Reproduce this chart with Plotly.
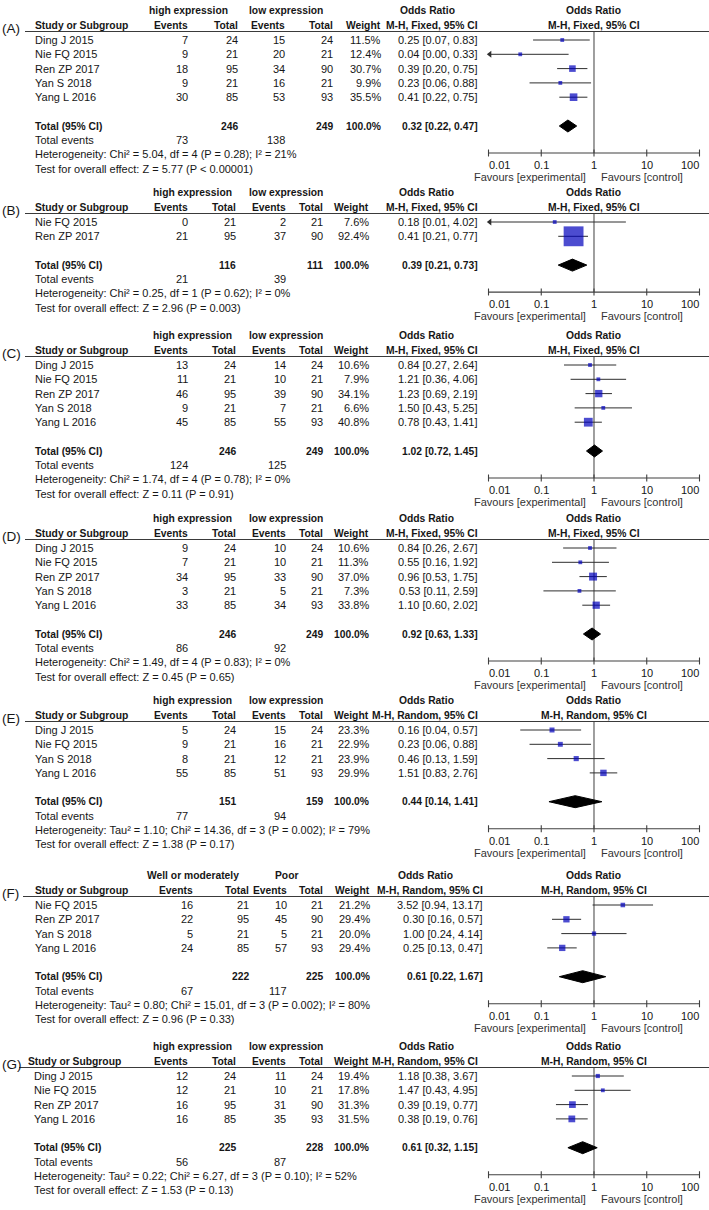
import math
import plotly.graph_objects as go

W, H = 709, 1210

# ------------------------------------------------------------------ data
PANEL_LABELS = ["(A)", "(B)", "(C)", "(D)", "(E)", "(F)", "(G)"]
GROUP1 = ["high expression"] * 5 + ["Well or moderately", "high expression"]
GROUP2 = ["low expression"] * 5 + ["Poor", "low expression"]
METHOD = ["M-H, Fixed, 95% CI"] * 4 + ["M-H, Random, 95% CI"] * 3

A_STUDIES = ["Ding J 2015", "Nie FQ 2015", "Ren ZP 2017", "Yan S 2018", "Yang L 2016"]
A_EV1 = [7, 9, 18, 9, 30]
A_TOT1 = [24, 21, 95, 21, 85]
A_EV2 = [15, 20, 34, 16, 53]
A_TOT2 = [24, 21, 90, 21, 93]
A_WEIGHT = [11.5, 12.4, 30.7, 9.9, 35.5]
A_OR = [0.25, 0.04, 0.39, 0.23, 0.41]
A_LO = [0.07, 0.00, 0.20, 0.06, 0.22]
A_HI = [0.83, 0.33, 0.75, 0.88, 0.75]
A_TOTALS = [246, 249]
A_POOLED = [0.32, 0.22, 0.47]
A_EVENTS = [73, 138]
A_HET = "Heterogeneity: Chi² = 5.04, df = 4 (P = 0.28); I² = 21%"
A_TEST = "Test for overall effect: Z = 5.77 (P < 0.00001)"

B_STUDIES = ["Nie FQ 2015", "Ren ZP 2017"]
B_EV1 = [0, 21]
B_TOT1 = [21, 95]
B_EV2 = [2, 37]
B_TOT2 = [21, 90]
B_WEIGHT = [7.6, 92.4]
B_OR = [0.18, 0.41]
B_LO = [0.01, 0.21]
B_HI = [4.02, 0.77]
B_TOTALS = [116, 111]
B_POOLED = [0.39, 0.21, 0.73]
B_EVENTS = [21, 39]
B_HET = "Heterogeneity: Chi² = 0.25, df = 1 (P = 0.62); I² = 0%"
B_TEST = "Test for overall effect: Z = 2.96 (P = 0.003)"

C_STUDIES = ["Ding J 2015", "Nie FQ 2015", "Ren ZP 2017", "Yan S 2018", "Yang L 2016"]
C_EV1 = [13, 11, 46, 9, 45]
C_TOT1 = [24, 21, 95, 21, 85]
C_EV2 = [14, 10, 39, 7, 55]
C_TOT2 = [24, 21, 90, 21, 93]
C_WEIGHT = [10.6, 7.9, 34.1, 6.6, 40.8]
C_OR = [0.84, 1.21, 1.23, 1.50, 0.78]
C_LO = [0.27, 0.36, 0.69, 0.43, 0.43]
C_HI = [2.64, 4.06, 2.19, 5.25, 1.41]
C_TOTALS = [246, 249]
C_POOLED = [1.02, 0.72, 1.45]
C_EVENTS = [124, 125]
C_HET = "Heterogeneity: Chi² = 1.74, df = 4 (P = 0.78); I² = 0%"
C_TEST = "Test for overall effect: Z = 0.11 (P = 0.91)"

D_STUDIES = ["Ding J 2015", "Nie FQ 2015", "Ren ZP 2017", "Yan S 2018", "Yang L 2016"]
D_EV1 = [9, 7, 34, 3, 33]
D_TOT1 = [24, 21, 95, 21, 85]
D_EV2 = [10, 10, 33, 5, 34]
D_TOT2 = [24, 21, 90, 21, 93]
D_WEIGHT = [10.6, 11.3, 37.0, 7.3, 33.8]
D_OR = [0.84, 0.55, 0.96, 0.53, 1.10]
D_LO = [0.26, 0.16, 0.53, 0.11, 0.60]
D_HI = [2.67, 1.92, 1.75, 2.59, 2.02]
D_TOTALS = [246, 249]
D_POOLED = [0.92, 0.63, 1.33]
D_EVENTS = [86, 92]
D_HET = "Heterogeneity: Chi² = 1.49, df = 4 (P = 0.83); I² = 0%"
D_TEST = "Test for overall effect: Z = 0.45 (P = 0.65)"

E_STUDIES = ["Ding J 2015", "Nie FQ 2015", "Yan S 2018", "Yang L 2016"]
E_EV1 = [5, 9, 8, 55]
E_TOT1 = [24, 21, 21, 85]
E_EV2 = [15, 16, 12, 51]
E_TOT2 = [24, 21, 21, 93]
E_WEIGHT = [23.3, 22.9, 23.9, 29.9]
E_OR = [0.16, 0.23, 0.46, 1.51]
E_LO = [0.04, 0.06, 0.13, 0.83]
E_HI = [0.57, 0.88, 1.59, 2.76]
E_TOTALS = [151, 159]
E_POOLED = [0.44, 0.14, 1.41]
E_EVENTS = [77, 94]
E_HET = "Heterogeneity: Tau² = 1.10; Chi² = 14.36, df = 3 (P = 0.002); I² = 79%"
E_TEST = "Test for overall effect: Z = 1.38 (P = 0.17)"

F_STUDIES = ["Nie FQ 2015", "Ren ZP 2017", "Yan S 2018", "Yang L 2016"]
F_EV1 = [16, 22, 5, 24]
F_TOT1 = [21, 95, 21, 85]
F_EV2 = [10, 45, 5, 57]
F_TOT2 = [21, 90, 21, 93]
F_WEIGHT = [21.2, 29.4, 20.0, 29.4]
F_OR = [3.52, 0.30, 1.00, 0.25]
F_LO = [0.94, 0.16, 0.24, 0.13]
F_HI = [13.17, 0.57, 4.14, 0.47]
F_TOTALS = [222, 225]
F_POOLED = [0.61, 0.22, 1.67]
F_EVENTS = [67, 117]
F_HET = "Heterogeneity: Tau² = 0.80; Chi² = 15.01, df = 3 (P = 0.002); I² = 80%"
F_TEST = "Test for overall effect: Z = 0.96 (P = 0.33)"

G_STUDIES = ["Ding J 2015", "Nie FQ 2015", "Ren ZP 2017", "Yang L 2016"]
G_EV1 = [12, 12, 16, 16]
G_TOT1 = [24, 21, 95, 85]
G_EV2 = [11, 10, 31, 35]
G_TOT2 = [24, 21, 90, 93]
G_WEIGHT = [19.4, 17.8, 31.3, 31.5]
G_OR = [1.18, 1.47, 0.39, 0.38]
G_LO = [0.38, 0.43, 0.19, 0.19]
G_HI = [3.67, 4.95, 0.77, 0.76]
G_TOTALS = [225, 228]
G_POOLED = [0.61, 0.32, 1.15]
G_EVENTS = [56, 87]
G_HET = "Heterogeneity: Tau² = 0.22; Chi² = 6.27, df = 3 (P = 0.10); I² = 52%"
G_TEST = "Test for overall effect: Z = 1.53 (P = 0.13)"

TICK_VALUES = [0.01, 0.1, 1, 10, 100]
TICK_LABELS = ["0.01", "0.1", "1", "10", "100"]
FAVOURS_LEFT = "Favours [experimental]"
FAVOURS_RIGHT = "Favours [control]"

PANELS = [
    (A_STUDIES, A_EV1, A_TOT1, A_EV2, A_TOT2, A_WEIGHT, A_OR, A_LO, A_HI, A_TOTALS, A_POOLED, A_EVENTS, A_HET, A_TEST),
    (B_STUDIES, B_EV1, B_TOT1, B_EV2, B_TOT2, B_WEIGHT, B_OR, B_LO, B_HI, B_TOTALS, B_POOLED, B_EVENTS, B_HET, B_TEST),
    (C_STUDIES, C_EV1, C_TOT1, C_EV2, C_TOT2, C_WEIGHT, C_OR, C_LO, C_HI, C_TOTALS, C_POOLED, C_EVENTS, C_HET, C_TEST),
    (D_STUDIES, D_EV1, D_TOT1, D_EV2, D_TOT2, D_WEIGHT, D_OR, D_LO, D_HI, D_TOTALS, D_POOLED, D_EVENTS, D_HET, D_TEST),
    (E_STUDIES, E_EV1, E_TOT1, E_EV2, E_TOT2, E_WEIGHT, E_OR, E_LO, E_HI, E_TOTALS, E_POOLED, E_EVENTS, E_HET, E_TEST),
    (F_STUDIES, F_EV1, F_TOT1, F_EV2, F_TOT2, F_WEIGHT, F_OR, F_LO, F_HI, F_TOTALS, F_POOLED, F_EVENTS, F_HET, F_TEST),
    (G_STUDIES, G_EV1, G_TOT1, G_EV2, G_TOT2, G_WEIGHT, G_OR, G_LO, G_HI, G_TOTALS, G_POOLED, G_EVENTS, G_HET, G_TEST),
]

# ------------------------------------------------------------------ layout constants (pixels)
HEADER_Y = [25, 207, 350, 533, 715, 890, 1061]
ROW_STEP = 14.3
COLS_STD = dict(left=35, ev1=188, tot1=236, ev2=286, tot2=323, wt=369, orr=478, g1=192.5, g2=286, orc=427, line0=25, study=35)
COLS = [
    dict(COLS_STD, tot1=238, ev2=285, tot2=333, wt=381, g1=188.5, orc=428),
    dict(COLS_STD),
    dict(COLS_STD),
    dict(COLS_STD),
    dict(COLS_STD),
    dict(COLS_STD, ev1=193, tot1=249, ev2=287, wt=370, orr=483, g2=286, orc=426, line0=23),
    dict(COLS_STD, line0=19, study=28, left=34),
]
X_LEFT_PX, X_RIGHT_PX = 488.5, 699.5   # positions of 0.01 and 100
PAD = 0.1
DEC = (X_RIGHT_PX - X_LEFT_PX) / 4

FONT = "Liberation Sans, Arial, sans-serif"
TXT = "#161616"
BLUE = "#0000bc"
LINE = "#2e2e2e"
REG, BOLD = 11.0, 10.3

fig = go.Figure()
ann = []
shapes = []


def txt(x, y, s, anchor="left", bold=False, size=None, color=TXT):
    ann.append(dict(x=x / W, y=y, xref="paper", yref="y",
                    text=f"<b>{s}</b>" if bold else s, showarrow=False,
                    xanchor=anchor, yanchor="middle", borderpad=0, borderwidth=0,
                    font=dict(family=FONT, size=size or (BOLD if bold else REG), color=color)))


xmin = 10 ** (-2)
for p, data in enumerate(PANELS):
    (studies, ev1, tot1, ev2, tot2, wt, orv, lo, hi, totals, pooled, events, het, test) = data
    c = COLS[p]
    h2 = HEADER_Y[p]
    h1 = h2 - 14.5
    rows = [h2 + 15 + ROW_STEP * i for i in range(len(studies))]
    y_tot = rows[-1] + 28.8
    y_te = y_tot + 14
    y_het = y_te + 14.2
    y_test = y_het + 14.3
    y_axis = y_tot + 27

    # panel label and header rule
    txt(2, h2 + 3, PANEL_LABELS[p], size=13.5)
    shapes.append(dict(type="line", xref="paper", yref="y", x0=c["line0"] / W, x1=1,
                       y0=h2 + 6.5, y1=h2 + 6.5, line=dict(color="#3a3a3a", width=1.2)))

    # headers
    txt(c["g1"], h1, GROUP1[p], "center", True)
    txt(c["g2"], h1, GROUP2[p], "center", True)
    txt(c["orc"], h1, "Odds Ratio", "center", True)
    txt(c["study"], h2, "Study or Subgroup", "left", True)
    txt(c["ev1"], h2, "Events", "right", True)
    txt(c["tot1"], h2, "Total", "right", True)
    txt(c["ev2"], h2, "Events", "right", True)
    txt(c["tot2"], h2, "Total", "right", True)
    txt(c["wt"], h2, "Weight", "right", True)
    txt(c["orr"], h2, METHOD[p], "right", True)
    ann.append(dict(x=0, y=h1, xref="x", yref="y", text="<b>Odds Ratio</b>", showarrow=False,
                    xanchor="center", yanchor="middle", borderpad=0, borderwidth=0,
                    font=dict(family=FONT, size=BOLD, color=TXT)))
    ann.append(dict(x=0, y=h2, xref="x", yref="y", text=f"<b>{METHOD[p]}</b>", showarrow=False,
                    xanchor="center", yanchor="middle", borderpad=0, borderwidth=0,
                    font=dict(family=FONT, size=BOLD, color=TXT)))

    # study rows
    for i, s in enumerate(studies):
        y = rows[i]
        txt(c["left"], y, s)
        txt(c["ev1"], y, str(ev1[i]), "right")
        txt(c["tot1"], y, str(tot1[i]), "right")
        txt(c["ev2"], y, str(ev2[i]), "right")
        txt(c["tot2"], y, str(tot2[i]), "right")
        txt(c["wt"], y, f"{wt[i]:.1f}%", "right")
        txt(c["orr"], y, f"{orv[i]:.2f} [{lo[i]:.2f}, {hi[i]:.2f}]", "right")

    # totals
    txt(c["left"], y_tot, "Total (95% CI)", "left", True)
    txt(c["tot1"], y_tot, str(totals[0]), "right", True)
    txt(c["tot2"], y_tot, str(totals[1]), "right", True)
    txt(c["wt"], y_tot, f"{sum(wt):.1f}%", "right", True)
    txt(c["orr"], y_tot, f"{pooled[0]:.2f} [{pooled[1]:.2f}, {pooled[2]:.2f}]", "right", True)
    txt(c["left"], y_te, "Total events")
    txt(c["ev1"], y_te, str(events[0]), "right")
    txt(c["ev2"], y_te, str(events[1]), "right")
    txt(c["left"], y_het, het)
    txt(c["left"], y_test, test)

    # vertical line of no effect
    fig.add_trace(go.Scatter(x=[1, 1], y=[h2 + 6.5, y_axis], mode="lines",
                             line=dict(color="#505050", width=1.1), hoverinfo="skip"))

    # CI whiskers
    xs, ys = [], []
    arrows_y = []
    for i in range(len(studies)):
        l = max(lo[i], xmin)
        xs += [l, hi[i], None]
        ys += [rows[i], rows[i], None]
        if lo[i] <= xmin:
            arrows_y.append(rows[i])
    fig.add_trace(go.Scatter(x=xs, y=ys, mode="lines", line=dict(color=LINE, width=1),
                             hoverinfo="skip"))
    if arrows_y:
        fig.add_trace(go.Scatter(x=[xmin * 1.06] * len(arrows_y), y=arrows_y, mode="markers",
                                 marker=dict(symbol="triangle-left", size=6, color=LINE),
                                 cliponaxis=False, hoverinfo="skip"))
    # squares (side proportional to weight)
    fig.add_trace(go.Scatter(x=orv, y=rows, mode="markers",
                             marker=dict(symbol="square", color=BLUE,
                                         size=[max(3.8, 0.215 * w) for w in wt],
                                         line=dict(width=0)),
                             cliponaxis=False, hoverinfo="skip"))
    # pooled diamond
    fig.add_trace(go.Scatter(x=[pooled[1], pooled[0], pooled[2], pooled[0], pooled[1]],
                             y=[y_tot, y_tot - 6, y_tot, y_tot + 6, y_tot],
                             mode="lines", fill="toself", fillcolor="black",
                             line=dict(color="black", width=1), hoverinfo="skip"))
    # axis line + ticks
    fig.add_trace(go.Scatter(x=[TICK_VALUES[0], TICK_VALUES[-1]], y=[y_axis, y_axis], mode="lines",
                             line=dict(color="#404040", width=1.1), hoverinfo="skip"))
    tx, ty = [], []
    for v in TICK_VALUES:
        tx += [v, v, None]
        ty += [y_axis - 3.5, y_axis + 3.5, None]
    fig.add_trace(go.Scatter(x=tx, y=ty, mode="lines", line=dict(color="#404040", width=1.1),
                             hoverinfo="skip"))
    for k, (v, lab) in enumerate(zip(TICK_VALUES, TICK_LABELS)):
        anchor = "left" if k == 0 else ("right" if k == len(TICK_VALUES) - 1 else "center")
        ann.append(dict(x=math.log10(v), y=y_axis + 12, xref="x", yref="y", text=lab,
                        showarrow=False, xanchor=anchor, yanchor="middle",
                        borderpad=0, borderwidth=0, font=dict(family=FONT, size=REG, color=TXT)))
    ann.append(dict(x=0, y=y_axis + 24, xref="x", yref="y", text=FAVOURS_LEFT, showarrow=False,
                    xanchor="right", xshift=-8, yanchor="middle", borderpad=0, borderwidth=0,
                    font=dict(family=FONT, size=REG, color="#333")))
    ann.append(dict(x=0, y=y_axis + 24, xref="x", yref="y", text=FAVOURS_RIGHT, showarrow=False,
                    xanchor="left", xshift=7, yanchor="middle", borderpad=0, borderwidth=0,
                    font=dict(family=FONT, size=REG, color="#333")))

fig.update_layout(
    width=W, height=H, autosize=False,
    margin=dict(l=0, r=0, t=0, b=0),
    paper_bgcolor="white", plot_bgcolor="white",
    showlegend=False, hovermode=False,
    annotations=ann, shapes=shapes,
    xaxis=dict(type="log", range=[-2 - PAD, 2 + PAD],
               domain=[(X_LEFT_PX - PAD * DEC) / W, (X_RIGHT_PX + PAD * DEC) / W],
               visible=False, fixedrange=True),
    yaxis=dict(range=[H, 0], domain=[0, 1], visible=False, fixedrange=True),
)

fig.write_html("out.html", config={"displayModeBar": False},
               post_script="document.body.style.margin='0';document.body.style.padding='0';"
                           "document.body.style.overflow='hidden';")
